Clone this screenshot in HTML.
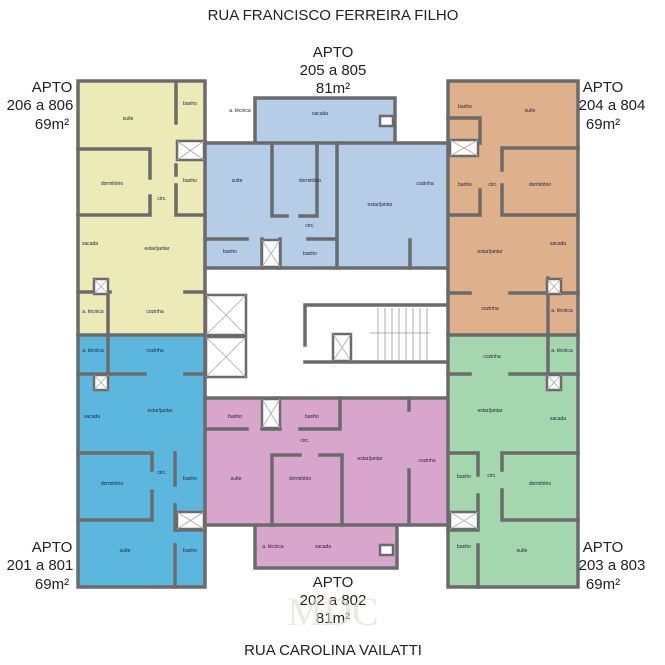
<!DOCTYPE html>
<html><head><meta charset="utf-8"><style>
html,body{margin:0;padding:0;background:#fff}
svg{display:block}
text{font-family:"Liberation Sans",sans-serif;fill:#222}
.t{font-size:15px;text-anchor:middle}
.l{font-size:5px;fill:#224;text-anchor:middle}
.w{stroke:#6b6b6b;stroke-width:3.5;fill:none;stroke-linecap:square}
.e{fill:#fff;stroke:#6b6b6b;stroke-width:2.5}
.x{stroke:#aaa;stroke-width:0.8}
</style></head><body>
<svg width="665" height="665" viewBox="0 0 665 665" xmlns="http://www.w3.org/2000/svg">
<!-- fills -->
<rect x="78" y="81" width="127" height="254" fill="#ecebb8"/>
<rect x="255" y="98" width="140" height="45" fill="#b5cde6"/>
<rect x="205" y="143" width="242" height="125" fill="#b5cde6"/>
<rect x="448" y="81" width="130" height="254" fill="#deb08b"/>
<rect x="78" y="335" width="127" height="252" fill="#5cb7df"/>
<rect x="448" y="335" width="130" height="252" fill="#a4d7ae"/>
<rect x="205" y="398" width="242" height="127" fill="#d8a5cc"/>
<rect x="255" y="525" width="142" height="43" fill="#d8a5cc"/>

<!-- outer walls -->
<rect class="w" x="78" y="81" width="127" height="506"/>
<rect class="w" x="448" y="81" width="130" height="506"/>
<path class="w" d="M255 143V98H395V143M205 143H447M205 268H447"/>
<path class="w" d="M205 398H447M205 525H447M255 525V568H397V525"/>
<path class="w" d="M78 335H205M448 335H578"/>

<!-- yellow interior -->
<path class="w" d="M78 149H150V178M150 196V215H78M176 83V123M176 185V215H205M78 292H110M185 292H205M108 292V335M176 165V175"/>
<rect class="e" x="177" y="141" width="27" height="19"/><path class="x" d="M177 141L204 160M204 141L177 160"/>
<rect class="e" x="94" y="279" width="14" height="15"/><path class="x" d="M94 279L108 294M108 279L94 294"/>
<!-- light blue interior -->
<path class="w" d="M272 143V216H287M300 216H317V143M337 143V268M205 239H247M262 239V268M280 239V268M308 239H337M410 240V268"/>
<rect class="e" x="262" y="240" width="18" height="27"/><path class="x" d="M262 240L280 267M280 240L262 267"/>
<rect class="e" x="380" y="116" width="13" height="10"/>
<!-- orange interior -->
<path class="w" d="M448 118H480V143M448 215H480V190M502 148H578M502 148V170M502 185V215H578M448 293H470M510 293H578M548 278V335"/>
<rect class="e" x="450" y="140" width="28" height="16"/><path class="x" d="M450 140L478 156M478 140L450 156"/>
<rect class="e" x="547" y="279" width="14" height="15"/><path class="x" d="M547 279L561 294M561 279L547 294"/>
<!-- blue 201 interior -->
<path class="w" d="M78 374H145M185 374H205M108 335V374M78 453H152V470M152 491V520H78M175 453V485M175 505V530H205M175 545V587"/>
<rect class="e" x="94" y="375" width="14" height="15"/><path class="x" d="M94 375L108 390M108 375L94 390"/>
<rect class="e" x="177" y="512" width="27" height="17"/><path class="x" d="M177 512L204 529M204 512L177 529"/>
<!-- green interior -->
<path class="w" d="M448 374H470M510 374H578M548 335V374M448 453H478V475M478 495V530H448M502 453H578M502 453V470M502 490V520H578M478 545V587"/>
<rect class="e" x="547" y="375" width="14" height="15"/><path class="x" d="M547 375L561 390M561 375L547 390"/>
<rect class="e" x="450" y="512" width="28" height="17"/><path class="x" d="M450 512L478 529M478 512L450 529"/>
<!-- pink interior -->
<path class="w" d="M205 429H247M262 429H280M300 429H340V398M272 455V525M272 455H300M320 455H342V525M409 398V410M409 470V525"/>
<rect class="e" x="262" y="399" width="18" height="29"/><path class="x" d="M262 399L280 428M280 399L262 428"/>
<rect class="e" x="380" y="545" width="13" height="10"/>

<!-- elevators -->
<rect class="e" x="206" y="295" width="40" height="40"/><path class="x" d="M206 295L246 335M246 295L206 335"/>
<rect class="e" x="206" y="337" width="40" height="40"/><path class="x" d="M206 337L246 377M246 337L206 377"/>
<!-- stairs -->
<path class="w" d="M305 345V305H447M305 362H447"/>
<g stroke="#999" stroke-width="0.8">
<line x1="378" y1="308" x2="378" y2="360"/><line x1="385" y1="308" x2="385" y2="360"/><line x1="392" y1="308" x2="392" y2="360"/><line x1="399" y1="308" x2="399" y2="360"/><line x1="406" y1="308" x2="406" y2="360"/><line x1="413" y1="308" x2="413" y2="360"/><line x1="420" y1="308" x2="420" y2="360"/><line x1="427" y1="308" x2="427" y2="360"/>
<line x1="370" y1="333" x2="430" y2="333"/>
</g>
<rect class="e" x="333" y="334" width="18" height="27"/><path class="x" d="M333 334L351 361M351 334L333 361"/>

<!-- room labels -->
<text class="l" x="128" y="120">suíte</text><text class="l" x="190" y="105">banho</text>
<text class="l" x="112" y="185">dormitório</text><text class="l" x="162" y="200">circ.</text><text class="l" x="190" y="182">banho</text>
<text class="l" x="90" y="245">sacada</text><text class="l" x="157" y="250">estar/jantar</text>
<text class="l" x="93" y="313">a. técnica</text><text class="l" x="155" y="313">cozinha</text>
<text class="l" x="240" y="112">a. técnica</text><text class="l" x="320" y="115">sacada</text>
<text class="l" x="237" y="182">suíte</text><text class="l" x="310" y="182">dormitório</text><text class="l" x="310" y="227">circ.</text>
<text class="l" x="230" y="253">banho</text><text class="l" x="310" y="255">banho</text><text class="l" x="380" y="206">estar/jantar</text><text class="l" x="425" y="185">cozinha</text>
<text class="l" x="465" y="108">banho</text><text class="l" x="530" y="112">suíte</text>
<text class="l" x="465" y="186">banho</text><text class="l" x="493" y="186">circ.</text><text class="l" x="540" y="186">dormitório</text>
<text class="l" x="490" y="253">estar/jantar</text><text class="l" x="558" y="245">sacada</text>
<text class="l" x="490" y="310">cozinha</text><text class="l" x="562" y="312">a. técnica</text>
<text class="l" x="93" y="352">a. técnica</text><text class="l" x="155" y="352">cozinha</text>
<text class="l" x="92" y="418">sacada</text><text class="l" x="160" y="412">estar/jantar</text>
<text class="l" x="112" y="485">dormitório</text><text class="l" x="162" y="474">circ.</text><text class="l" x="190" y="480">banho</text>
<text class="l" x="125" y="552">suíte</text><text class="l" x="190" y="552">banho</text>
<text class="l" x="235" y="418">banho</text><text class="l" x="312" y="418">banho</text><text class="l" x="305" y="442">circ.</text>
<text class="l" x="236" y="480">suíte</text><text class="l" x="300" y="480">dormitório</text>
<text class="l" x="370" y="460">estar/jantar</text><text class="l" x="427" y="462">cozinha</text>
<text class="l" x="273" y="548">a. técnica</text><text class="l" x="323" y="548">sacada</text>
<text class="l" x="492" y="358">cozinha</text><text class="l" x="562" y="352">a. técnica</text>
<text class="l" x="490" y="412">estar/jantar</text><text class="l" x="558" y="420">sacada</text>
<text class="l" x="464" y="478">banho</text><text class="l" x="492" y="477">circ.</text><text class="l" x="540" y="485">dormitório</text>
<text class="l" x="464" y="548">banho</text><text class="l" x="522" y="552">suíte</text>

<!-- headings -->
<text class="t" x="333" y="20">RUA FRANCISCO FERREIRA FILHO</text>
<text class="t" x="333" y="57">APTO</text><text class="t" x="333" y="75">205 a 805</text><text class="t" x="333" y="93">81m²</text>
<text class="t" x="52" y="92">APTO</text><text class="t" x="40" y="110">206 a 806</text><text class="t" x="52" y="129">69m²</text>
<text class="t" x="603" y="92">APTO</text><text class="t" x="612" y="110">204 a 804</text><text class="t" x="603" y="129">69m²</text>
<text class="t" x="52" y="552">APTO</text><text class="t" x="40" y="570">201 a 801</text><text class="t" x="52" y="589">69m²</text>
<text class="t" x="603" y="552">APTO</text><text class="t" x="612" y="570">203 a 803</text><text class="t" x="603" y="589">69m²</text>
<text class="t" x="333" y="587">APTO</text><text class="t" x="333" y="605">202 a 802</text><text class="t" x="333" y="623">81m²</text>
<text x="333" y="625" style="font-family:'Liberation Serif',serif;font-size:40px;fill:#e6dcc6;text-anchor:middle;opacity:.6">MDC</text>
<text class="t" x="333" y="655">RUA CAROLINA VAILATTI</text>
</svg>
</body></html>
